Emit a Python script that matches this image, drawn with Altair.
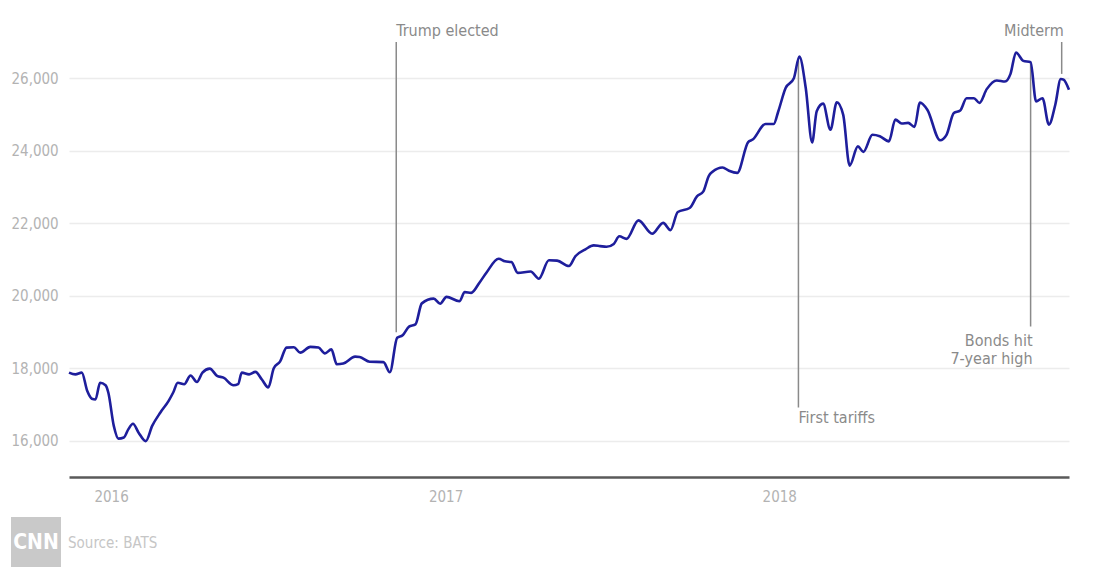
import altair as alt
import pandas as pd

# ---- Dow Jones weekly closes ----
dates = [
    "2015-11-16", "2015-11-23", "2015-11-30", "2015-12-06", "2015-12-11", "2015-12-15",
    "2015-12-20", "2015-12-26", "2015-12-29", "2016-01-04", "2016-01-09", "2016-01-15",
    "2016-01-20", "2016-01-25", "2016-01-31", "2016-02-08", "2016-02-15", "2016-02-24",
    "2016-03-04", "2016-03-09", "2016-03-14", "2016-03-21", "2016-03-28", "2016-04-04",
    "2016-04-10", "2016-04-18", "2016-04-26", "2016-05-03", "2016-05-14", "2016-05-19",
    "2016-05-23", "2016-05-31", "2016-06-07", "2016-06-14", "2016-06-21", "2016-06-27",
    "2016-07-04", "2016-07-11", "2016-07-19", "2016-07-26", "2016-08-06", "2016-08-15",
    "2016-08-22", "2016-08-29", "2016-09-04", "2016-09-11", "2016-09-24", "2016-09-29",
    "2016-10-10", "2016-10-25", "2016-11-01", "2016-11-09", "2016-11-15", "2016-11-22",
    "2016-11-29", "2016-12-06", "2016-12-19", "2016-12-26", "2017-01-02", "2017-01-16",
    "2017-01-22", "2017-01-29", "2017-02-07", "2017-02-15", "2017-02-28", "2017-03-07",
    "2017-03-14", "2017-03-21", "2017-04-04", "2017-04-13", "2017-04-24", "2017-05-03",
    "2017-05-16", "2017-05-23", "2017-06-03", "2017-06-12", "2017-06-19", "2017-06-26",
    "2017-07-04", "2017-07-10", "2017-07-18", "2017-07-31", "2017-08-15", "2017-08-27",
    "2017-09-04", "2017-09-12", "2017-09-25", "2017-10-03", "2017-10-10", "2017-10-16",
    "2017-10-20", "2017-10-31", "2017-11-07", "2017-11-16", "2017-11-28", "2017-12-03",
    "2017-12-17", "2017-12-26", "2017-12-31", "2018-01-08", "2018-01-17", "2018-01-23",
    "2018-01-30", "2018-02-06", "2018-02-11", "2018-02-18", "2018-02-26", "2018-03-05",
    "2018-03-12", "2018-03-19", "2018-03-28", "2018-04-03", "2018-04-13", "2018-04-21",
    "2018-05-01", "2018-05-08", "2018-05-15", "2018-05-22", "2018-05-29", "2018-06-04",
    "2018-06-12", "2018-06-26", "2018-07-03", "2018-07-11", "2018-07-18", "2018-07-25",
    "2018-08-02", "2018-08-08", "2018-08-16", "2018-08-27", "2018-09-05", "2018-09-11",
    "2018-09-17", "2018-09-25", "2018-10-03", "2018-10-09", "2018-10-16", "2018-10-23",
    "2018-10-30", "2018-11-05", "2018-11-08", "2018-11-14",
]
values = [
    17880, 17830, 17880, 17370, 17160, 17140,
    17600, 17530, 17330, 16410, 16060, 16090,
    16320, 16470, 16230, 15990, 16410, 16780,
    17100, 17330, 17600, 17560, 17800, 17620,
    17880, 17990, 17790, 17740, 17530, 17560,
    17880, 17830, 17900, 17690, 17470, 18000,
    18190, 18570, 18580, 18430, 18590, 18570,
    18410, 18520, 18110, 18130, 18320, 18310,
    18180, 18170, 17890, 18840, 18910, 19150,
    19210, 19790, 19920, 19780, 19970, 19850,
    20100, 20080, 20360, 20650, 21020, 20950,
    20930, 20630, 20670, 20470, 20980, 20970,
    20820, 21090, 21280, 21390, 21370, 21350,
    21430, 21640, 21570, 22080, 21710, 22010,
    21810, 22310, 22420, 22740, 22880, 23310,
    23420, 23540, 23450, 23390, 24240, 24310,
    24740, 24740, 25090, 25730, 26000, 26600,
    25730, 24230, 25090, 25300, 24580, 25340,
    24990, 23590, 24120, 23970, 24440, 24400,
    24260, 24860, 24750, 24770, 24660, 25330,
    25130, 24290, 24440, 25040, 25110, 25450,
    25450, 25320, 25700, 25940, 25910, 26120,
    26710, 26480, 26440, 25360, 25450, 24720,
    25270, 25980, 25960, 25680,
]

y_ticks = [16000, 18000, 20000, 22000, 24000, 26000]
x_tick_years = [2016, 2017, 2018]

# ---- event markers ----
event_dates = ["2016-11-08", "2018-01-22", "2018-10-03", "2018-11-06"]
event_top = [27000, 26500, 26400, 27000]
event_bottom = [18990, 16920, 19150, 26120]

left_label_texts = ["Trump elected", "First tariffs"]
left_label_dates = ["2016-11-08", "2018-01-22"]
left_label_values = [27310, 16620]

right_label_texts = ["Midterm", "Bonds hit", "7-year high"]
right_label_dates = ["2018-11-06", "2018-10-03", "2018-10-03"]
right_label_values = [27310, 18750, 18245]

FONT = "DejaVu Sans Condensed, Liberation Sans Narrow, sans-serif"
LINE_COLOR = "#1e1e9c"
NOTE_COLOR = "#8a8a8a"
TICK_COLOR = "#b3b3b3"

df = pd.DataFrame({"date": dates, "value": values})
events = pd.DataFrame({"date": event_dates, "top": event_top, "bottom": event_bottom})
left_labels = pd.DataFrame({"date": left_label_dates, "value": left_label_values, "text": left_label_texts})
right_labels = pd.DataFrame({"date": right_label_dates, "value": right_label_values, "text": right_label_texts})

x_scale = alt.Scale(
    type="utc",
    domain=[alt.DateTime(year=2015, month=11, date=16, utc=True),
            alt.DateTime(year=2018, month=11, date=14, utc=True)],
)
y_scale = alt.Scale(domain=[15000, 27000], nice=False, zero=False)

x_axis = alt.Axis(
    values=[alt.DateTime(year=yr, month=1, date=1, utc=True) for yr in x_tick_years],
    labelExpr="utcFormat(datum.value, '%Y')",
    title=None, grid=False, ticks=False,
    domainColor="#5a5a5a", domainWidth=2.5,
    labelColor=TICK_COLOR, labelFont=FONT, labelFontSize=15,
    labelPadding=19, labelBaseline="middle",
)
y_axis = alt.Axis(
    values=y_ticks, labelExpr="format(datum.value, ',')",
    title=None, domain=False, ticks=False,
    grid=True, gridColor="#ececec", gridWidth=1.5,
    labelColor=TICK_COLOR, labelFont=FONT, labelFontSize=15,
    labelAlign="left", labelPadding=58, labelBaseline="middle",
)

X_DATE = alt.X("date:T", scale=x_scale, axis=x_axis, title=None)

rules = alt.Chart(events).mark_rule(color=NOTE_COLOR, strokeWidth=1.5).encode(
    x=X_DATE,
    y=alt.Y("top:Q", scale=y_scale, axis=y_axis, title=None),
    y2="bottom:Q",
)

line = alt.Chart(df).mark_line(
    color=LINE_COLOR, strokeWidth=2.6, interpolate="monotone"
).encode(
    x=X_DATE,
    y=alt.Y("value:Q", scale=y_scale, axis=y_axis, title=None),
)

left_text = alt.Chart(left_labels).mark_text(
    align="left", baseline="middle", font=FONT, fontSize=16, color=NOTE_COLOR, dx=0
).encode(
    x=X_DATE,
    y=alt.Y("value:Q", scale=y_scale, axis=y_axis, title=None),
    text="text:N",
)

right_text = alt.Chart(right_labels).mark_text(
    align="right", baseline="middle", font=FONT, fontSize=16, color=NOTE_COLOR, dx=2
).encode(
    x=X_DATE,
    y=alt.Y("value:Q", scale=y_scale, axis=y_axis, title=None),
    text="text:N",
)

one = pd.DataFrame({"k": [0]})
logo_box = alt.Chart(one).mark_rect(color="#c9c9c9").encode(
    x=alt.value(-58), x2=alt.value(-8), y=alt.value(475), y2=alt.value(525)
)
logo_text = alt.Chart(one).mark_text(
    text="CNN", font="Liberation Sans Narrow, DejaVu Sans Condensed, sans-serif",
    fontWeight="bold", fontSize=21, color="white", align="center", baseline="middle"
).encode(x=alt.value(-33), y=alt.value(501))
source_text = alt.Chart(one).mark_text(
    text="Source: BATS", font=FONT, fontSize=15, color="#c6c6c6",
    align="left", baseline="middle"
).encode(x=alt.value(-1), y=alt.value(501))

chart = alt.layer(
    rules, line, left_text, right_text, logo_box, logo_text, source_text
).properties(
    width=1000, height=435,
    autosize=alt.AutoSizeParams(type="none"),
    padding={"left": 61, "top": 34, "right": 15, "bottom": 90},
).configure_view(stroke=None)

chart.save("out.html", embed_options={"renderer": "svg", "actions": False})
